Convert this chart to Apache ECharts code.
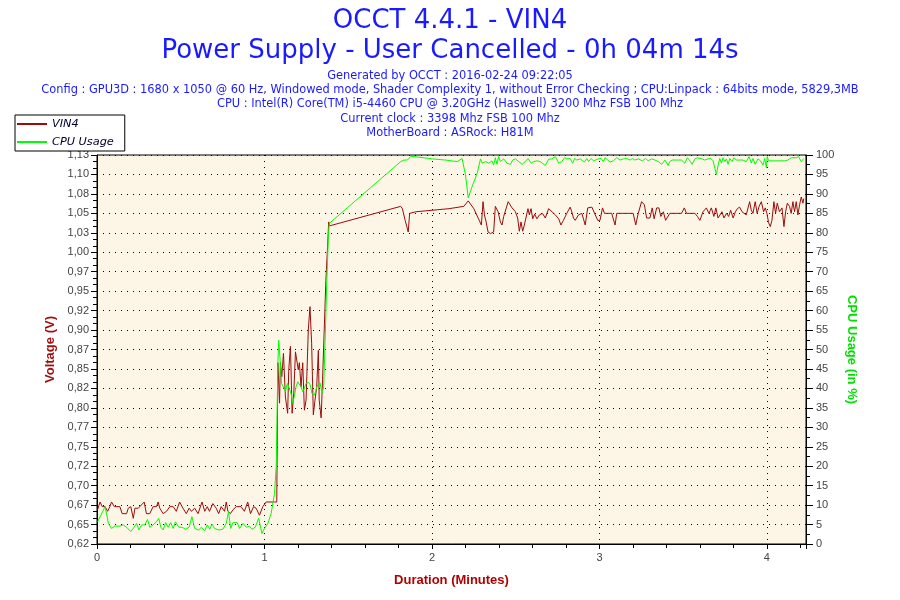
<!DOCTYPE html>
<html>
<head>
<meta charset="utf-8">
<script src="https://cdn.jsdelivr.net/npm/echarts@6/dist/echarts.min.js"></script>
<style>
html,body{margin:0;padding:0;background:#fff;}
#chart{width:900px;height:600px;}
</style>
</head>
<body>
<div id="chart"></div>
<script>
// ---- Data (time in seconds) ----
var vinTime = [0.2,1.1,1.9,2.9,3.8,4.6,5.2,6.2,8.2,9.0,10.6,11.2,12.1,13.0,13.6,14.8,16.9,17.7,18.9,20.1,21.3,21.9,22.5,23.7,24.9,26.1,27.3,28.4,29.6,30.8,32.0,33.0,33.8,35.0,36.2,37.6,38.6,39.5,40.3,41.5,42.7,43.6,44.5,45.7,46.3,46.9,47.8,48.7,49.9,51.6,52.8,54.0,55.0,56.1,57.0,58.2,59.4,60.6,63.5,64.4,
64.8,65.4,65.7,66.2,66.8,67.5,68.3,68.7,69.3,69.9,70.5,71.1,71.5,72.1,72.5,73.1,73.7,74.3,74.9,75.7,76.3,76.9,77.5,78.1,78.7,79.3,79.6,80.3,80.8,81.4,82.0,82.6,83.0,83.4,
108.8,109.4,110.4,111.5,112.0,114.2,120.1,126.1,131.4,133.0,135.0,137.7,138.3,138.8,139.4,140.1,141.0,142.1,142.7,143.7,144.5,145.1,145.7,147.3,148.7,149.9,150.7,151.3,151.9,152.5,153.1,154.4,154.9,155.5,156.1,156.8,157.6,158.5,159.6,160.6,161.8,
163.0,164.2,165.4,166.2,167.1,168.3,169.5,170.1,170.7,171.3,172.5,173.7,174.3,174.9,175.8,177.3,177.9,178.5,179.4,180.2,181.1,181.8,184.4,185.6,186.2,192.1,193.0,193.9,195.1,196.1,196.9,198.1,198.9,199.6,200.5,201.3,202.0,202.9,203.7,204.4,205.2,209.4,210.4,211.2,214.2,215.1,216.0,217.1,218.3,219.2,220.1,221.0,221.7,222.5,223.1,223.9,224.6,225.5,226.3,227.0,227.9,228.7,229.4,230.2,231.1,231.8,232.6,233.2,233.8,234.4,235.0,235.8,236.5,237.2,238.0,238.8,239.4,240.0,240.6,241.2,241.8,242.5,243.1,243.7,244.5,245.4,246.1,246.7,247.3,248.1,248.7,249.3,249.9,250.5,251.1,251.7,252.3,252.9,253.2];
var vinValue = [0.669,0.679,0.673,0.673,0.667,0.673,0.679,0.673,0.673,0.664,0.664,0.671,0.673,0.658,0.671,0.671,0.679,0.664,0.664,0.673,0.673,0.679,0.671,0.664,0.667,0.673,0.673,0.667,0.679,0.671,0.664,0.671,0.667,0.671,0.664,0.679,0.667,0.673,0.667,0.677,0.671,0.664,0.673,0.667,0.679,0.667,0.664,0.669,0.673,0.673,0.667,0.679,0.664,0.673,0.671,0.662,0.673,0.679,0.679,0.679,
0.858,0.806,0.858,0.840,0.870,0.814,0.793,0.849,0.879,0.793,0.819,0.872,0.872,0.849,0.858,0.827,0.858,0.797,0.810,0.900,0.930,0.883,0.791,0.810,0.827,0.874,0.810,0.787,0.836,0.900,0.964,1.007,1.039,1.034,
1.059,1.056,1.041,1.026,1.050,1.052,1.054,1.056,1.059,1.066,1.056,1.035,1.065,1.048,1.039,1.026,1.024,1.026,1.059,1.052,1.039,1.035,1.046,1.065,1.057,1.052,1.044,1.027,1.039,1.027,1.035,1.056,1.048,1.056,1.043,1.049,1.043,1.048,1.050,1.044,1.056,
1.052,1.048,1.043,1.035,1.041,1.050,1.058,1.052,1.044,1.041,1.048,1.050,1.050,1.035,1.057,1.058,1.056,1.048,1.041,1.041,1.057,1.050,1.050,1.035,1.050,1.050,1.035,1.050,1.065,1.061,1.044,1.044,1.057,1.043,1.057,1.057,1.046,1.052,1.041,1.041,1.050,1.050,1.057,1.050,1.050,1.046,1.041,1.052,1.057,1.050,1.057,1.046,1.057,1.044,1.044,1.052,1.044,1.050,1.046,1.054,1.044,1.052,1.056,1.058,1.052,1.050,1.048,1.050,1.065,1.054,1.050,1.065,1.050,1.059,1.065,1.052,1.057,1.050,1.038,1.033,1.041,1.065,1.050,1.063,1.052,1.057,1.033,1.052,1.063,1.059,1.050,1.065,1.052,1.065,1.048,1.061,1.071,1.063,1.069];

var cpuTime = [0.2,2.9,4.1,5.2,6.4,8.2,9.4,10.6,12.1,13.3,14.2,15.0,16.0,17.1,18.1,18.9,20.1,21.3,22.1,22.9,23.7,24.6,25.5,26.4,27.3,28.1,29.3,30.5,31.7,33.0,34.0,35.0,36.4,37.4,38.6,39.5,40.4,41.2,42.1,43.6,45.1,46.3,47.1,47.9,48.7,50.2,51.1,52.3,53.5,54.6,55.5,56.7,57.9,59.1,60.0,61.2,62.4,
63.6,64.2,64.8,65.1,65.6,66.1,66.8,67.5,68.2,68.9,69.5,70.1,70.7,71.3,71.9,72.5,73.1,73.7,74.3,74.9,75.8,76.4,77.0,77.9,78.4,79.0,79.9,80.6,81.2,81.7,82.3,82.9,83.2,
108.8,110.0,111.2,112.4,113.6,120.1,124.9,129.0,130.8,131.4,132.0,133.0,134.4,136.2,137.4,138.0,139.2,140.4,141.5,142.1,142.7,143.3,143.9,144.5,145.7,146.9,148.1,148.9,149.9,151.1,152.3,153.4,154.4,155.6,156.4,157.6,158.8,160.6,161.8,
163.0,164.2,165.4,166.5,167.5,168.3,169.5,170.4,171.1,171.9,173.1,173.7,174.6,175.5,176.1,177.0,177.9,178.5,179.6,180.6,181.1,181.4,182.0,183.0,183.8,185.0,186.2,187.4,188.6,189.8,191.0,191.8,192.7,193.9,195.4,196.5,197.5,198.7,199.9,201.1,202.3,203.5,204.6,205.2,206.1,207.6,209.4,210.6,211.5,212.4,213.2,214.2,215.1,216.0,216.8,217.7,218.9,219.9,220.7,221.3,221.9,222.5,223.1,223.7,224.3,224.9,225.5,226.1,226.7,227.5,228.2,229.0,230.2,231.4,232.6,233.6,234.4,235.0,235.8,236.8,237.7,238.6,239.2,239.8,240.1,240.6,242.7,246.3,247.5,248.7,250.5,251.3,252.3,253.2];
var cpuValue = [5.7,9.6,5.3,4.0,4.6,4.6,4.9,4.3,3.2,4.3,5.3,3.6,4.9,4.9,6.3,4.3,4.9,5.7,6.6,4.3,3.6,5.5,4.3,5.5,4.0,5.7,4.3,4.3,3.8,4.3,7.0,4.0,3.6,4.3,3.4,4.9,3.8,5.1,4.0,3.6,3.8,5.3,8.3,4.0,5.5,5.5,4.0,5.3,4.3,4.6,3.8,4.3,6.6,2.7,4.0,5.3,7.9,
13.0,19.9,46.4,52.4,47.3,41.3,40.9,39.2,41.3,40.9,38.7,36.2,37.9,40.4,41.7,42.2,40.4,39.2,40.0,41.3,41.5,40.9,38.7,38.3,38.7,40.9,41.5,38.7,40.4,51.6,67.0,79.0,82.4,
98.3,98.7,98.7,99.6,99.6,99.0,98.7,98.3,99.1,99.3,94.9,89.0,91.9,95.3,99.0,97.9,98.3,97.9,98.5,97.4,99.3,97.6,99.6,98.3,99.0,97.9,97.6,98.7,99.0,98.3,97.6,98.3,99.1,97.9,98.3,98.5,98.3,97.3,98.9,
99.0,99.6,97.9,98.3,99.3,99.0,99.1,97.9,99.1,98.7,99.0,99.3,98.2,99.1,98.3,99.1,98.5,98.7,99.0,99.1,99.6,98.3,99.3,98.7,98.2,98.5,99.3,98.7,99.0,99.1,98.7,99.1,98.7,99.0,98.5,99.1,98.5,99.0,98.7,98.3,97.6,98.7,97.3,98.3,98.7,98.7,98.7,97.9,99.3,98.5,97.6,99.0,99.3,99.1,99.0,98.7,99.0,99.1,98.5,99.0,95.0,97.3,99.1,97.9,99.3,98.3,99.0,97.6,99.1,98.3,99.3,98.7,98.7,98.7,98.3,99.6,97.9,99.1,97.6,99.0,98.5,97.4,99.1,96.7,99.6,98.5,98.5,98.5,98.7,99.3,99.3,99.6,98.3,99.1];

var voltTickLabels = ["0,62","0,65","0,67","0,70","0,72","0,75","0,77","0,80","0,82","0,85","0,87","0,90","0,92","0,95","0,97","1,00","1,03","1,05","1,08","1,10","1,13"];
var titleMain = "OCCT 4.4.1 - VIN4";
var titleSub = "Power Supply - User Cancelled - 0h 04m 14s";
var infoLines = [
  "Generated by OCCT : 2016-02-24 09:22:05",
  "Config : GPU3D : 1680 x 1050 @ 60 Hz, Windowed mode, Shader Complexity 1, without Error Checking ; CPU:Linpack : 64bits mode, 5829,3MB",
  "CPU : Intel(R) Core(TM) i5-4460 CPU @ 3.20GHz (Haswell) 3200 Mhz FSB 100 Mhz",
  "Current clock : 3398 Mhz FSB 100 Mhz",
  "MotherBoard : ASRock: H81M"
];
var durationSec = 254;

function pairs(t, v){ var out=[]; for(var i=0;i<t.length;i++){ out.push([t[i]/60, v[i]]); } return out; }

var chart = echarts.init(document.getElementById('chart'), null, {renderer:'canvas'});
var titleFont = "'DejaVu Sans',sans-serif";
var smallFont = "'DejaVu Sans',sans-serif";
var axisFont = "'Liberation Sans Narrow','Liberation Sans',Arial,sans-serif";
var blue = '#1a1aff';

var titles = [
  {text:titleMain, left:'center', top:3, textStyle:{fontFamily:titleFont, fontSize:26, fontWeight:'normal', color:blue}},
  {text:titleSub, left:'center', top:33, textStyle:{fontFamily:titleFont, fontSize:26, fontWeight:'normal', color:blue}}
];
for (var k=0;k<infoLines.length;k++){
  titles.push({text:infoLines[k], left:'center', top:69 + k*14.25, padding:0,
    textStyle:{fontFamily:smallFont, fontSize:11.4, fontWeight:'normal', color:blue, lineHeight:14}});
}

chart.setOption({
  animation:false,
  backgroundColor:'#ffffff',
  title:titles,
  legend:{
    orient:'vertical', left:15, top:115,
    backgroundColor:'#ffffff', borderColor:'#000000', borderWidth:1,
    padding:[2,11,2,2], itemGap:4, itemWidth:30, itemHeight:2, itemTextGap:9, icon:'rect',
    textStyle:{fontFamily:"'DejaVu Sans',sans-serif", fontStyle:'italic', fontSize:11.3, color:'#000033', lineHeight:14}
  },
  grid:{left:97, right:94, top:155, bottom:56, show:true, backgroundColor:'#fdf5e6', borderColor:'#000', borderWidth:1, containLabel:false},
  xAxis:{
    type:'value', min:0, max:durationSec/60, interval:1,
    name:'Duration (Minutes)', nameLocation:'middle', nameGap:30,
    nameTextStyle:{fontFamily:axisFont, fontSize:13, fontWeight:'bold', color:'#b00000'},
    axisLine:{lineStyle:{color:'#000', width:1}},
    axisTick:{show:true, length:5, inside:false, lineStyle:{color:'#000'}},
    minorTick:{show:true, splitNumber:5, length:4, lineStyle:{color:'#000'}},
    axisLabel:{fontFamily:axisFont, fontSize:11, color:'#444', margin:8,
      formatter:function(v){ return Math.abs(v-Math.round(v))<1e-6 ? String(Math.round(v)) : ''; }},
    splitLine:{show:true, lineStyle:{color:'#000', width:1, type:[1,5]}}
  },
  yAxis:[
    {
      type:'value', min:0.625, max:1.125, interval:0.025, position:'left',
      name:'Voltage (V)', nameLocation:'middle', nameGap:40, nameRotate:90,
      nameTextStyle:{fontFamily:axisFont, fontSize:13, fontWeight:'bold', color:'#a01010'},
      axisLine:{show:true, lineStyle:{color:'#000', width:1}},
      axisTick:{show:true, length:6, lineStyle:{color:'#000'}},
      minorTick:{show:true, splitNumber:3, length:4, lineStyle:{color:'#000'}},
      axisLabel:{fontFamily:axisFont, fontSize:11, color:'#444', margin:8,
        formatter:function(v){ var i=Math.round((v-0.625)/0.025); return voltTickLabels[i]||''; }},
      splitLine:{show:true, lineStyle:{color:'#000', width:1, type:[1,5]}}
    },
    {
      type:'value', min:0, max:100, interval:5, position:'right',
      name:'CPU Usage (in %)', nameLocation:'middle', nameGap:35, nameRotate:-90,
      nameTextStyle:{fontFamily:axisFont, fontSize:13, fontWeight:'bold', color:'#00e000'},
      axisLine:{show:true, lineStyle:{color:'#000', width:1}},
      axisTick:{show:true, length:7, lineStyle:{color:'#000'}},
      minorTick:{show:true, splitNumber:2, length:4, lineStyle:{color:'#000'}},
      axisLabel:{fontFamily:axisFont, fontSize:11, color:'#444', margin:10},
      splitLine:{show:false}
    }
  ],
  series:[
    {name:'VIN4', type:'line', yAxisIndex:0, data:pairs(vinTime, vinValue), symbol:'none',
     lineStyle:{color:'#9b0d0d', width:1}, itemStyle:{color:'#9b0d0d'}, z:2},
    {name:'CPU Usage', type:'line', yAxisIndex:1, data:pairs(cpuTime, cpuValue), symbol:'none',
     lineStyle:{color:'#00ff00', width:1}, itemStyle:{color:'#00ff00'}, z:3}
  ]
});
</script>
</body>
</html>
